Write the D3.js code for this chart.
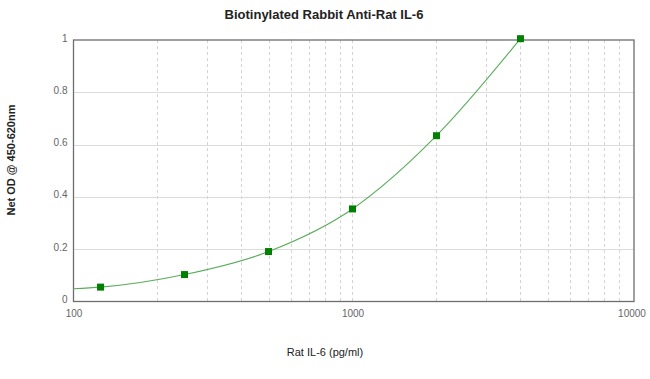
<!DOCTYPE html>
<html><head><meta charset="utf-8">
<script src="https://cdn.jsdelivr.net/npm/d3@7"></script>
<style>body{margin:0;background:#fff}svg{display:block}</style>
</head><body>
<script>
const concentrations = [125, 250, 500, 1000, 2000, 4000];
const odValues = [0.055, 0.103, 0.191, 0.354, 0.634, 1.005];
// fitted curve (starts at left edge, passes through points)
const fitX = [100, 125, 250, 500, 1000, 2000, 4000];
const fitY = [0.049, 0.055, 0.103, 0.191, 0.354, 0.634, 1.005];
const xTicks = [100, 1000, 10000];
const xMinor = [200,300,400,500,600,700,800,900,1000,2000,3000,4000,5000,6000,7000,8000,9000];
const yTicks = [0, 0.2, 0.4, 0.6, 0.8, 1];
const yTickLabels = ["0", "0.2", "0.4", "0.6", "0.8", "1"];
const title = "Biotinylated Rabbit Anti-Rat IL-6";
const xLabel = "Rat IL-6 (pg/ml)";
const yLabel = "Net OD @ 450-620nm";

const W = 650, H = 379;
const L = 73.5, R = 634, T = 40, B = 301.5;
const svg = d3.select("body").append("svg").attr("width", W).attr("height", H);
const x = d3.scaleLog().domain([100, 10000]).range([L, 631.5]);
const y = d3.scaleLinear().domain([0, 1]).range([B, B - 261.5]);

// grid
svg.append("g").selectAll("line").data(xMinor).join("line")
  .attr("x1", d => Math.round(x(d)) + 0.5).attr("x2", d => Math.round(x(d)) + 0.5)
  .attr("y1", T).attr("y2", B)
  .attr("stroke", "#d4d4d4").attr("stroke-width", 1).attr("stroke-dasharray", "3,3");
svg.append("g").selectAll("line").data(yTicks.slice(1, -1)).join("line")
  .attr("x1", L).attr("x2", R)
  .attr("y1", d => Math.round(y(d)) + 0.5).attr("y2", d => Math.round(y(d)) + 0.5)
  .attr("stroke", "#dcdcdc").attr("stroke-width", 1);

// frame
svg.append("rect").attr("x", L).attr("y", T).attr("width", R - L).attr("height", B - T)
  .attr("fill", "none").attr("stroke", "#6e6e6e").attr("stroke-width", 1.3);

// axes tick labels
const fontFam = "'Liberation Sans', Arial, sans-serif";
const yAxis = d3.axisLeft(y).tickValues(yTicks).tickSize(0).tickPadding(6)
  .tickFormat((d, i) => yTickLabels[i]);
const gy = svg.append("g").attr("transform", `translate(${L},0)`).call(yAxis);
gy.select(".domain").remove();
gy.selectAll("text").attr("fill", "#666").style("font-family", fontFam).style("font-size", "10px")
  .attr("dy", "0.1em");
const xAxis = d3.axisBottom(x).tickValues(xTicks).tickSize(0).tickPadding(8)
  .tickFormat(d3.format("d"));
const gx = svg.append("g").attr("transform", `translate(0,${B})`).call(xAxis);
gx.select(".domain").remove();
gx.selectAll("text").attr("fill", "#666").style("font-family", fontFam).style("font-size", "10px");

// fit curve
const pts = fitX.map((d, i) => [d, fitY[i]]);
svg.append("path").datum(pts)
  .attr("d", d3.line().x(d => x(d[0])).y(d => y(d[1])).curve(d3.curveMonotoneX))
  .attr("fill", "none").attr("stroke", "#5aad5a").attr("stroke-width", 1.1);

// points
svg.append("g").selectAll("rect").data(concentrations).join("rect")
  .attr("x", d => x(d) - 3.5).attr("y", (d, i) => y(odValues[i]) - 3.5)
  .attr("width", 7).attr("height", 7).attr("fill", "#008000");

// titles
svg.append("text").attr("x", 324).attr("y", 19).attr("text-anchor", "middle")
  .style("font-family", fontFam).style("font-size", "13px").style("font-weight", "bold")
  .attr("fill", "#222").text(title);
svg.append("text").attr("x", 325).attr("y", 356).attr("text-anchor", "middle")
  .style("font-family", fontFam).style("font-size", "11px")
  .attr("fill", "#222").text(xLabel);
svg.append("text").attr("transform", "translate(15,160) rotate(-90)").attr("text-anchor", "middle")
  .style("font-family", fontFam).style("font-size", "11px").style("font-weight", "bold")
  .attr("fill", "#222").text(yLabel);
</script>
</body></html>
